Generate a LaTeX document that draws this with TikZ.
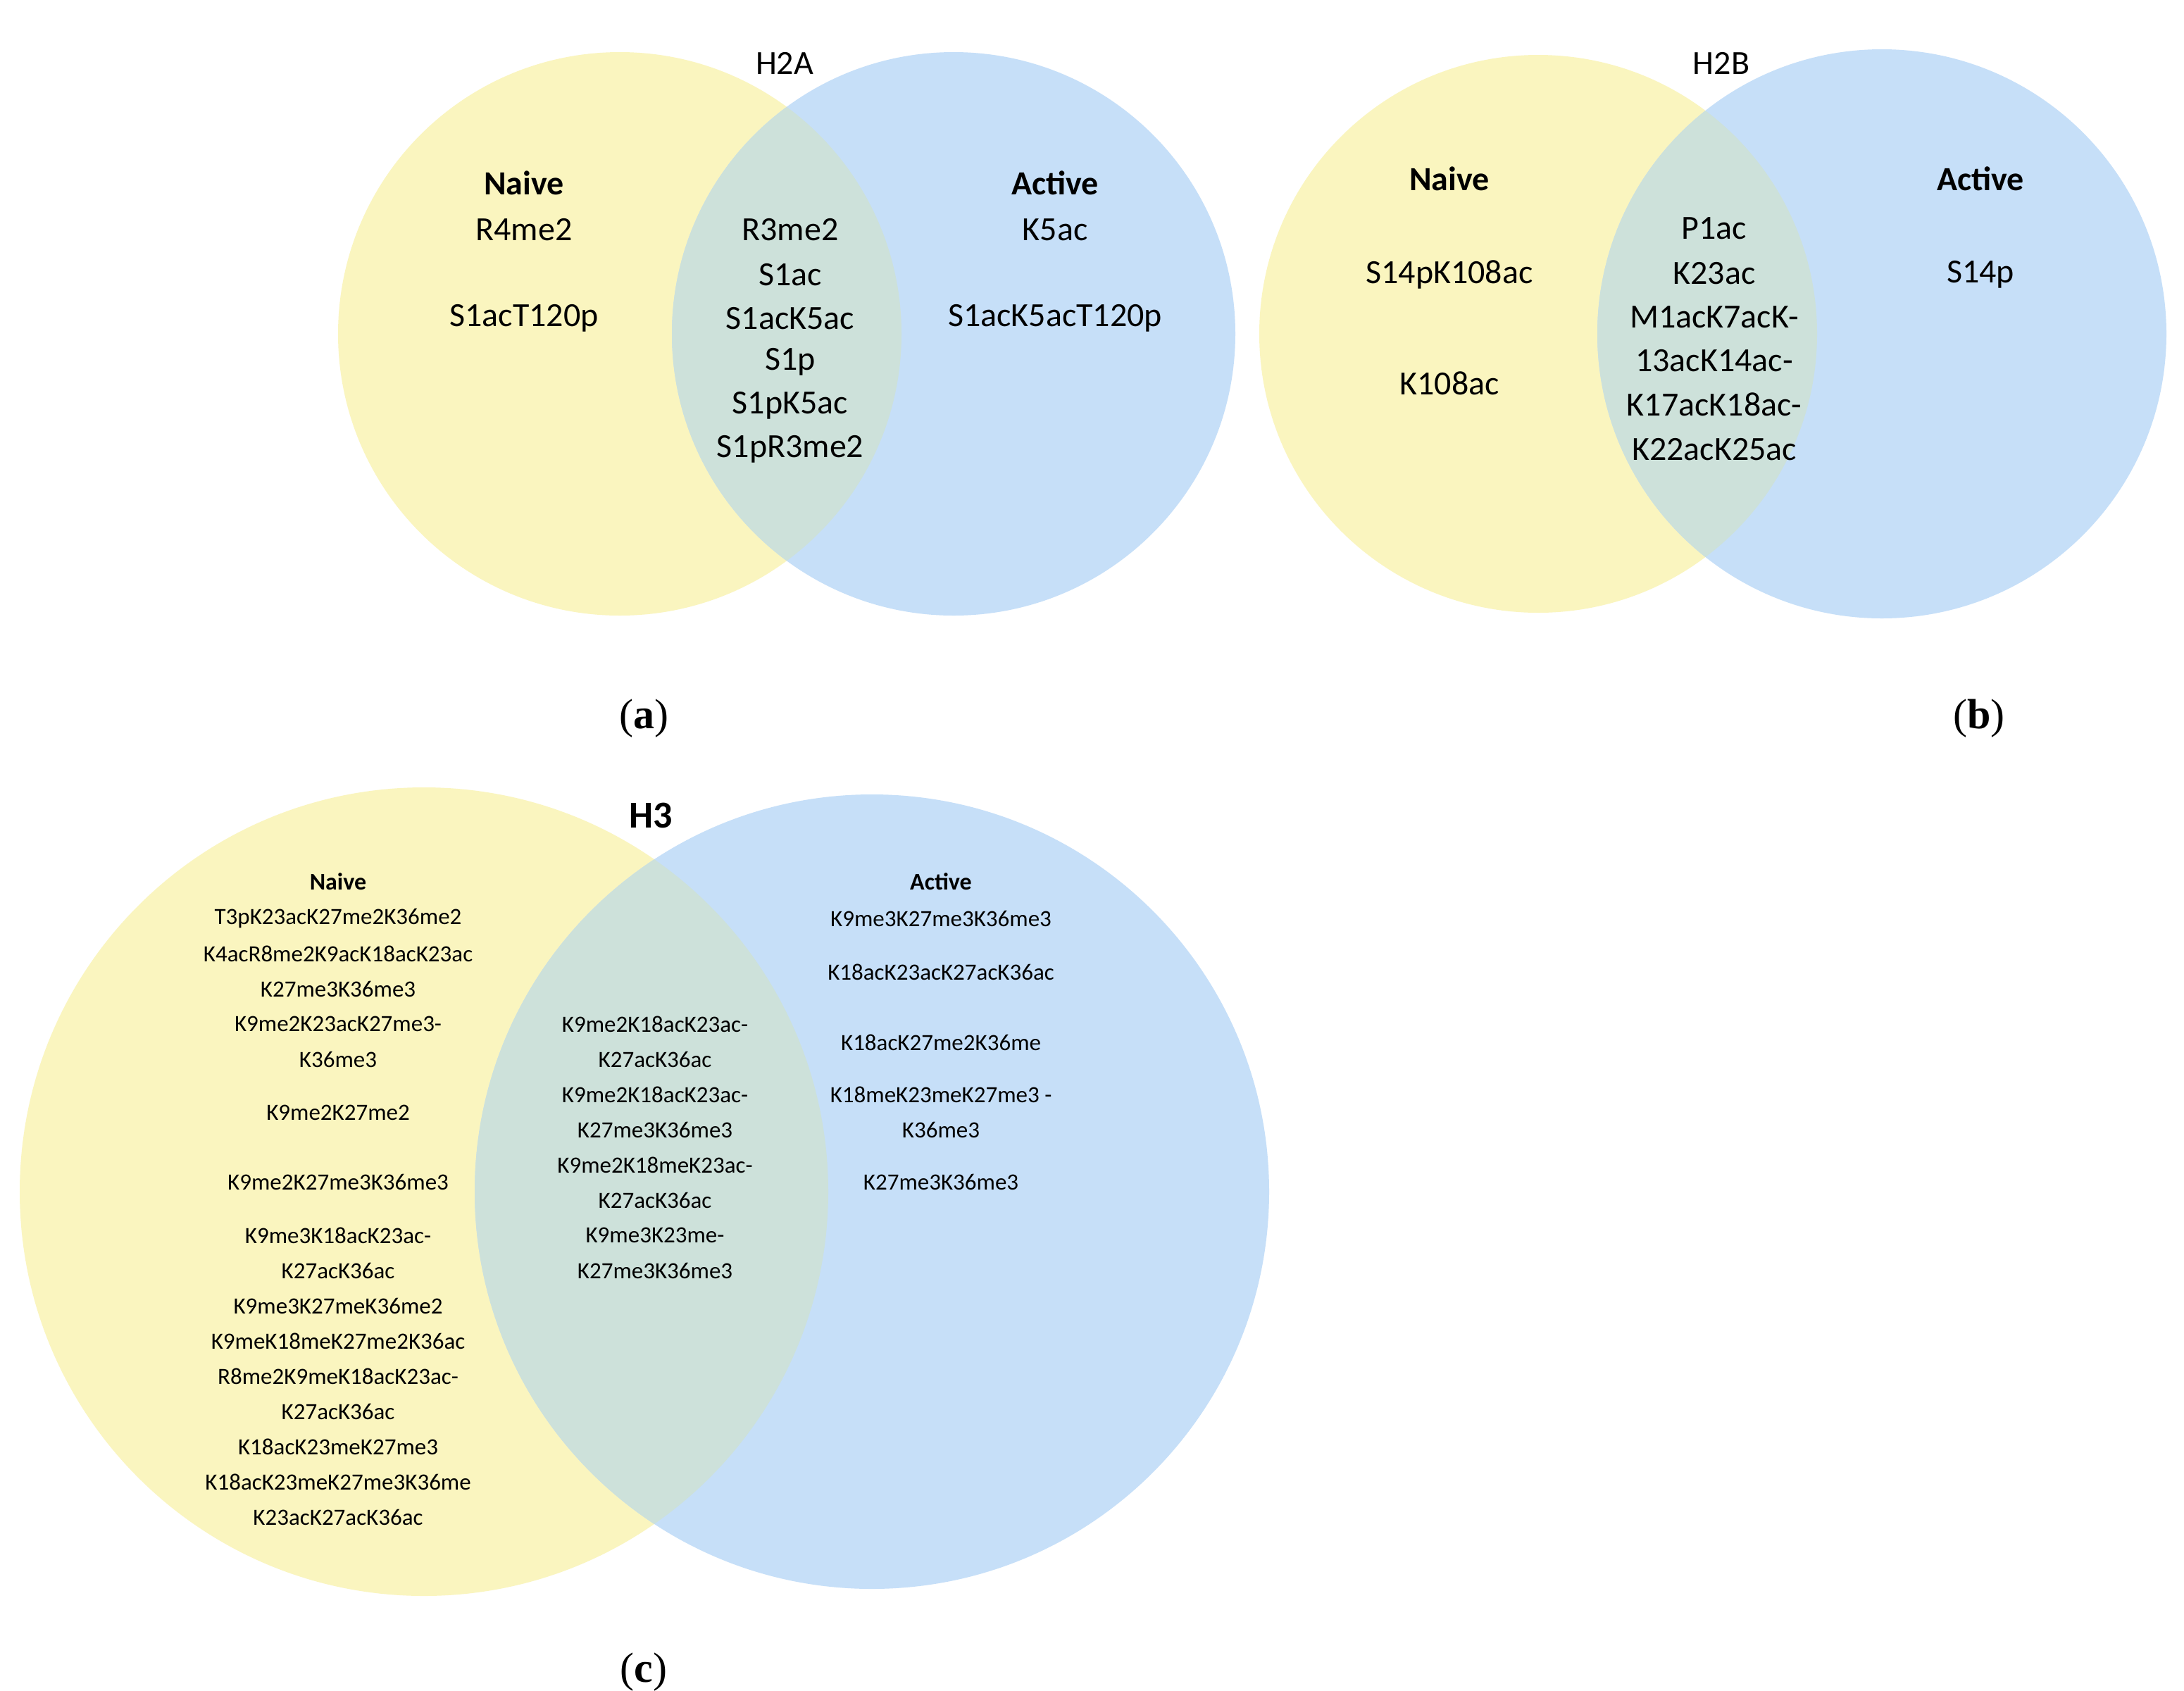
\documentclass[tikz,border=0pt]{standalone}
\usepackage{fontspec}
\setmainfont{Carlito}
\newfontfamily\serifb{Liberation Serif}
\definecolor{yel}{HTML}{FAF5BF}
\definecolor{blu}{HTML}{C6DFF8}
\definecolor{ovl}{HTML}{CDE1DA}
\begin{document}
\begin{tikzpicture}[x=1pt,y=-1pt,
  big/.style={font=\fontsize{24}{28}\selectfont,anchor=center},
  sm/.style={font=\fontsize{16.5}{19}\selectfont,anchor=center},
  lab/.style={font=\serifb\fontsize{30}{34}\selectfont,anchor=center}]
\useasboundingbox[fill=white] (0,0) rectangle (1550.5,1200);
% H2A
\fill[yel] (440,237) circle (200);
\fill[blu] (677,237) circle (200);
\begin{scope}\clip (440,237) circle (200); \fill[ovl] (677,237) circle (200);\end{scope}
% H2B
\fill[yel] (1092,237) circle (198);
\fill[blu] (1336,237) circle (202);
\begin{scope}\clip (1092,237) circle (198); \fill[ovl] (1336,237) circle (202);\end{scope}
% H3
\fill[yel] (301,846) circle (287);
\fill[blu] (619,846) circle (282);
\begin{scope}\clip (301,846) circle (287); \fill[ovl] (619,846) circle (282);\end{scope}
% H2A text
\node[big] (t2a) at (557,45) {H2A};
\node[big,font=\fontsize{24}{28}\selectfont\bfseries] (an) at (372,130) {Naive};
\node[big] (a1) at (372,163) {R4me2};
\node[big] (a2) at (372,226) {S1acT120p};
\node[big,font=\fontsize{24}{28}\selectfont\bfseries] (aa) at (749,130) {Active};
\node[big] (a3) at (749,163) {K5ac};
\node[big] (a4) at (749,226) {S1acK5acT120p};
\foreach \t/\y [count=\i] in {R3me2/163,S1ac/195,S1acK5ac/226,S1p/257,S1pK5ac/288,S1pR3me2/319}
  \node[big] (ac\i) at (561,\y) {\t};
% H2B text
\node[big] (t2b) at (1222,45) {H2B};
\node[big,font=\fontsize{24}{28}\selectfont\bfseries] (bn) at (1029,127) {Naive};
\node[big] (b1) at (1029,195) {S14pK108ac};
\node[big] (b2) at (1029,272) {K108ac};
\node[big,font=\fontsize{24}{28}\selectfont\bfseries] (ba) at (1406,127) {Active};
\node[big] (b3) at (1406,195) {S14p};
\foreach \t/\y [count=\i] in {P1ac/162,K23ac/194,M1acK7acK-/225,13acK14ac-/256,K17acK18ac-/287,K22acK25ac/319}
  \node[big] (bc\i) at (1217,\y) {\t};
% H3 text
\node[big,font=\fontsize{27}{30}\selectfont\bfseries] (t3) at (462,579) {H3};
\node[sm,font=\fontsize{17}{19}\selectfont\bfseries] (cn) at (240,626) {Naive};
\foreach \t/\y [count=\i] in {T3pK23acK27me2K36me2/652,K4acR8me2K9acK18acK23ac/677,K27me3K36me3/702,K9me2K23acK27me3-/727,K36me3/752,K9me2K27me2/790,K9me2K27me3K36me3/839,K9me3K18acK23ac-/877,K27acK36ac/902,K9me3K27meK36me2/927,K9meK18meK27me2K36ac/952,R8me2K9meK18acK23ac-/977,K27acK36ac/1002,K18acK23meK27me3/1027,K18acK23meK27me3K36me/1052,K23acK27acK36ac/1077}
  \node[sm] (cn\i) at (240,\y) {\t};
\foreach \t/\y [count=\i] in {K9me2K18acK23ac-/727,K27acK36ac/752,K9me2K18acK23ac-/777,K27me3K36me3/802,K9me2K18meK23ac-/827,K27acK36ac/852,K9me3K23me-/877,K27me3K36me3/902}
  \node[sm] (cc\i) at (465,\y) {\t};
\node[sm,font=\fontsize{17}{19}\selectfont\bfseries] (ca) at (668,626) {Active};
\foreach \t/\y [count=\i] in {K9me3K27me3K36me3/652,K18acK23acK27acK36ac/690,K18acK27me2K36me/740,K18meK23meK27me3 -/777,K36me3/802,K27me3K36me3/839}
  \node[sm] (ca\i) at (668,\y) {\t};
% panel labels
\node[lab] (la) at (457,510) {(\textbf{a})};
\node[lab] (lb) at (1405,510) {(\textbf{b})};
\node[lab] (lc) at (457,1187) {(\textbf{c})};
\end{tikzpicture}
\end{document}
